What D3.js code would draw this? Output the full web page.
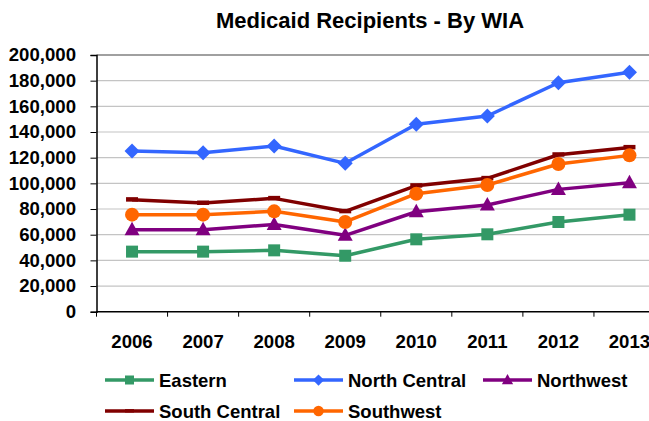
<!DOCTYPE html>
<html>
<head>
<meta charset="utf-8">
<script src="https://cdn.jsdelivr.net/npm/d3@7"></script>
<style>
  body { margin: 0; background: #fff; }
  text { font-family: "Liberation Sans", Arial, sans-serif; font-weight: bold; fill: #000; }
</style>
</head>
<body>
<div id="container"></div>
<script>
let width = 649;
let height = 421;

// data
let years = ["2006", "2007", "2008", "2009", "2010", "2011", "2012", "2013"];
let eastern = [46800, 46800, 47800, 43600, 56400, 60300, 69900, 75600];
let northCentral = [125200, 123900, 129100, 115600, 146000, 152500, 178400, 186500];
let northwest = [63900, 63900, 68000, 59500, 77900, 83100, 95300, 100500];
let southCentral = [87300, 84700, 88300, 78200, 98200, 103900, 122300, 128000];
let southwest = [75600, 75600, 78200, 69900, 91900, 98700, 115100, 121800];
let yTicks = [0, 20000, 40000, 60000, 80000, 100000, 120000, 140000, 160000, 180000, 200000];

let series = [
  { name: "Eastern", values: eastern, color: "#339966", marker: "square" },
  { name: "North Central", values: northCentral, color: "#3366ff", marker: "diamond" },
  { name: "Northwest", values: northwest, color: "#800080", marker: "triangle" },
  { name: "South Central", values: southCentral, color: "#800000", marker: "dash" },
  { name: "Southwest", values: southwest, color: "#ff6600", marker: "circle" }
];

let plotLeft = 96.5, plotRight = 665, plotTop = 55, plotBottom = 311.7;

let svg = d3.select("#container")
  .append("svg")
  .attr("width", width)
  .attr("height", height)
  .style("display", "block");

svg.append("rect").attr("width", width).attr("height", height).attr("fill", "#fff");

let x = d3.scaleBand().domain(years).range([plotLeft, plotRight]);
let y = d3.scaleLinear().domain([0, 200000]).range([plotBottom, plotTop]);

// title
svg.append("text")
  .attr("x", 370)
  .attr("y", 28)
  .attr("text-anchor", "middle")
  .style("font-size", "22px")
  .text("Medicaid Recipients - By WIA");

// gridlines
svg.selectAll(".grid").data(yTicks.filter(d => d > 0))
  .enter().append("line")
  .attr("class", "grid")
  .attr("x1", plotLeft).attr("x2", plotRight)
  .attr("y1", d => y(d)).attr("y2", d => y(d))
  .attr("stroke", d => d === 200000 ? "#808080" : "#c4c4c4")
  .attr("stroke-width", d => d === 200000 ? 1.5 : 1.2);

// y axis
let yAxis = svg.append("g")
  .attr("transform", `translate(${plotLeft},0)`)
  .call(d3.axisLeft(y).tickValues(yTicks).tickFormat(d3.format(",")).tickSize(6).tickPadding(14.5));
yAxis.select(".domain").attr("stroke", "#000").attr("stroke-width", 1.5);
yAxis.selectAll(".tick line").attr("stroke", "#000");
yAxis.selectAll("text").style("font-size", "18.6px").attr("font-family", null);

// x axis
svg.append("line")
  .attr("x1", plotLeft).attr("x2", plotRight)
  .attr("y1", plotBottom).attr("y2", plotBottom)
  .attr("stroke", "#000").attr("stroke-width", 1.5);
svg.selectAll(".xtick").data(years)
  .enter().append("line")
  .attr("class", "xtick")
  .attr("x1", d => x(d)).attr("x2", d => x(d))
  .attr("y1", plotBottom).attr("y2", plotBottom + 5)
  .attr("stroke", "#000");
svg.selectAll(".xlabel").data(years)
  .enter().append("text")
  .attr("class", "xlabel")
  .attr("x", d => x(d) + x.bandwidth() / 2)
  .attr("y", 348)
  .attr("text-anchor", "middle")
  .style("font-size", "18.6px")
  .text(d => d);

function drawMarker(g, type, color) {
  if (type === "square") {
    g.append("rect").attr("x", -6).attr("y", -6).attr("width", 12).attr("height", 12).attr("fill", color);
  } else if (type === "diamond") {
    g.append("path").attr("d", "M0,-7.5L7.5,0L0,7.5L-7.5,0Z").attr("fill", color);
  } else if (type === "triangle") {
    g.append("path").attr("d", "M0,-8L7.5,5.5L-7.5,5.5Z").attr("fill", color);
  } else if (type === "circle") {
    g.append("circle").attr("r", 7).attr("fill", color);
  } else if (type === "dash") {
    g.append("rect").attr("x", -6).attr("y", -2.5).attr("width", 12).attr("height", 4.5).attr("fill", color);
  }
}

let line = d3.line()
  .x((d, i) => x(years[i]) + x.bandwidth() / 2)
  .y(d => y(d));

// draw order: back to front
let order = ["South Central", "Eastern", "Northwest", "Southwest", "North Central"];
order.forEach(function (name) {
  let s = series.find(d => d.name === name);
  svg.append("path")
    .datum(s.values)
    .attr("d", line)
    .attr("fill", "none")
    .attr("stroke", s.color)
    .attr("stroke-width", 3.5)
    .attr("stroke-linejoin", "round");
  s.values.forEach(function (v, i) {
    let g = svg.append("g")
      .attr("transform", `translate(${x(years[i]) + x.bandwidth() / 2},${y(v)})`);
    drawMarker(g, s.marker, s.color);
  });
});

// legend
let legendPos = [
  { lx: 105, ly: 380 }, { lx: 294, ly: 380 }, { lx: 483, ly: 380 },
  { lx: 105, ly: 411 }, { lx: 294, ly: 411 }
];
series.forEach(function (s, i) {
  let p = legendPos[i];
  let g = svg.append("g").attr("transform", `translate(${p.lx},${p.ly})`);
  g.append("line").attr("x1", 0).attr("x2", 49).attr("y1", 0).attr("y2", 0)
    .attr("stroke", s.color).attr("stroke-width", 3.5);
  let m = g.append("g").attr("transform", "translate(24.5,0) scale(0.75)");
  drawMarker(m, s.marker, s.color);
  g.append("text").attr("x", 54).attr("y", 6.7).style("font-size", "18.5px").text(s.name);
});
</script>
</body>
</html>
